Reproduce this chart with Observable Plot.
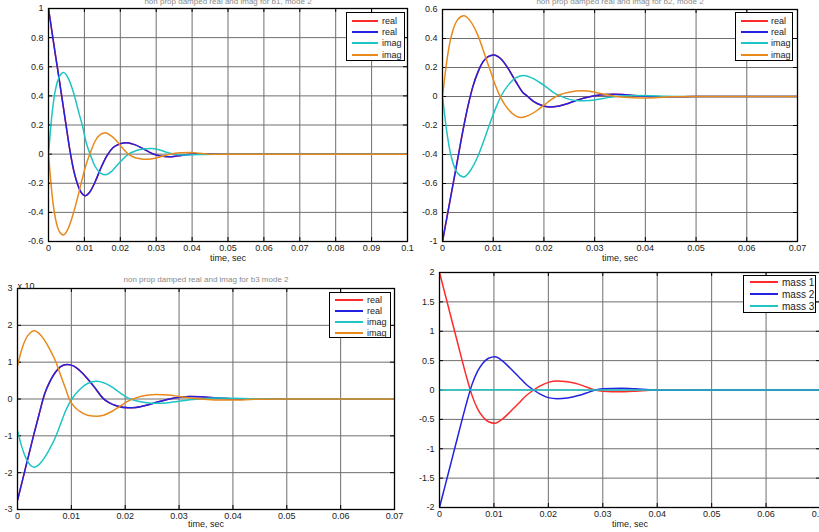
<!DOCTYPE html>
<html><head><meta charset="utf-8">
<script src="https://cdn.jsdelivr.net/npm/d3@7"></script>
<script src="https://cdn.jsdelivr.net/npm/@observablehq/plot@0.6"></script>
<style>
body{margin:0;background:#fff;}
#root{position:relative;width:819px;height:532px;overflow:hidden;background:#fff;font-family:"Liberation Sans",Arial,sans-serif;}
.panel{position:absolute;overflow:hidden;}
.panel svg{overflow:visible;max-width:none !important;}
.legend{position:absolute;background:#fff;border:1px solid #000;box-sizing:border-box;color:#222;}
.legend .row{display:flex;align-items:center;}
.legend .sw{display:inline-block;height:2px;flex:none;}
</style>
</head><body>
<div id="root"></div>
<script>
// ---------- data ----------
const xTicks1 = [0,0.01,0.02,0.03,0.04,0.05,0.06,0.07,0.08,0.09,0.1];
const xTicks7 = [0,0.01,0.02,0.03,0.04,0.05,0.06,0.07];
const yTicks1 = [-0.6,-0.4,-0.2,0,0.2,0.4,0.6,0.8,1];
const yTicks2 = [-1,-0.8,-0.6,-0.4,-0.2,0,0.2,0.4,0.6];
const yTicks3 = [-3,-2,-1,0,1,2,3];
const yTicks4 = [-2,-1.5,-1,-0.5,0,0.5,1,1.5,2];
const xLabel = "time, sec";
const titles = ["non prop damped real and imag for b1, mode 2", "non prop damped real and imag for b2, mode 2", "non prop damped real and imag for b3 mode 2"];
const expLabel = "x 10";
const namesRI = ["real","real","imag","imag"];
const namesMass = ["mass 1","mass 2","mass 3"];

// panel 1 (top-left)
const p1Real = [[0,1],[0.001,0.835],[0.002,0.67],[0.003,0.51],[0.004,0.345],[0.005,0.18],[0.006,0.02],[0.007,-0.11],[0.008,-0.2],[0.009,-0.26],[0.0102,-0.285],[0.0115,-0.26],[0.013,-0.19],[0.0145,-0.1],[0.0163,-0.01],[0.018,0.045],[0.0198,0.07],[0.0218,0.078],[0.024,0.065],[0.0265,0.035],[0.029,0.003],[0.031,-0.012],[0.0336,-0.018],[0.036,-0.012],[0.039,-0.002],[0.042,0.003],[0.045,0.003],[0.05,0],[0.1,0]];
const p1Cyan = [[0,0],[0.0005,0.15],[0.001,0.28],[0.0015,0.38],[0.002,0.45],[0.003,0.53],[0.0042,0.56],[0.0055,0.52],[0.007,0.42],[0.0085,0.28],[0.0095,0.19],[0.0105,0.08],[0.0116,0],[0.013,-0.085],[0.0145,-0.13],[0.0159,-0.142],[0.0175,-0.12],[0.019,-0.08],[0.0205,-0.04],[0.022,-0.005],[0.0235,0.015],[0.026,0.033],[0.0285,0.038],[0.031,0.028],[0.033,0.012],[0.035,0],[0.038,-0.006],[0.042,-0.002],[0.046,0],[0.1,0]];
const p1Orange = [[0,0],[0.0005,-0.15],[0.001,-0.28],[0.0015,-0.38],[0.002,-0.45],[0.003,-0.53],[0.0042,-0.555],[0.0055,-0.51],[0.007,-0.4],[0.0085,-0.26],[0.0095,-0.16],[0.0105,-0.07],[0.0118,0.02],[0.013,0.09],[0.0145,0.135],[0.0158,0.147],[0.0175,0.125],[0.019,0.09],[0.0205,0.045],[0.022,0.005],[0.0235,-0.018],[0.0255,-0.032],[0.0275,-0.036],[0.03,-0.027],[0.032,-0.013],[0.034,0],[0.037,0.009],[0.0397,0.012],[0.042,0.006],[0.045,0],[0.1,0]];

// panel 2 (top-right)
const p2Real = [[0,-1],[0.001,-0.81],[0.002,-0.62],[0.003,-0.43],[0.004,-0.24],[0.005,-0.07],[0.006,0.07],[0.007,0.17],[0.008,0.24],[0.009,0.275],[0.0101,0.287],[0.0115,0.26],[0.013,0.19],[0.0145,0.1],[0.0158,0.03],[0.0168,0],[0.018,-0.035],[0.0195,-0.06],[0.021,-0.072],[0.023,-0.065],[0.025,-0.045],[0.027,-0.02],[0.029,-0.002],[0.031,0.01],[0.0336,0.016],[0.036,0.012],[0.039,0.004],[0.042,-0.002],[0.045,-0.002],[0.05,0],[0.07,0]];
const p2Cyan = [[0,0],[0.0005,-0.15],[0.001,-0.28],[0.0015,-0.38],[0.002,-0.45],[0.003,-0.53],[0.0042,-0.555],[0.0055,-0.51],[0.007,-0.41],[0.0085,-0.27],[0.0095,-0.17],[0.0105,-0.08],[0.0115,0],[0.013,0.08],[0.0145,0.13],[0.016,0.145],[0.0175,0.13],[0.019,0.1],[0.0205,0.065],[0.022,0.025],[0.0235,0],[0.025,-0.02],[0.027,-0.03],[0.029,-0.028],[0.031,-0.018],[0.033,-0.006],[0.035,0.003],[0.038,0.007],[0.041,0.006],[0.044,0.002],[0.048,0],[0.07,0]];
const p2Orange = [[0,0],[0.0005,0.15],[0.001,0.28],[0.0015,0.38],[0.002,0.45],[0.003,0.53],[0.0042,0.557],[0.0055,0.52],[0.007,0.42],[0.0085,0.27],[0.0095,0.17],[0.0105,0.07],[0.0115,-0.01],[0.013,-0.09],[0.0145,-0.135],[0.0155,-0.145],[0.017,-0.13],[0.0185,-0.1],[0.02,-0.06],[0.0215,-0.02],[0.023,0.01],[0.025,0.03],[0.0275,0.04],[0.03,0.03],[0.032,0.015],[0.034,0.002],[0.036,-0.006],[0.039,-0.01],[0.042,-0.008],[0.045,-0.002],[0.05,0],[0.07,0]];

// panel 3 (bottom-left)
const p3Real = [[0,-2.75],[0.001,-2.16],[0.002,-1.57],[0.003,-0.98],[0.004,-0.42],[0.005,0.12],[0.006,0.47],[0.007,0.72],[0.008,0.88],[0.0092,0.94],[0.0104,0.9],[0.0115,0.78],[0.013,0.55],[0.0145,0.28],[0.0158,0.03],[0.017,-0.1],[0.0185,-0.19],[0.0206,-0.24],[0.022,-0.23],[0.024,-0.17],[0.026,-0.08],[0.028,-0.005],[0.0305,0.055],[0.032,0.065],[0.034,0.06],[0.037,0.03],[0.04,0.01],[0.043,-0.01],[0.046,-0.01],[0.05,0],[0.07,0]];
const p3Cyan = [[0,-0.86],[0.0008,-1.3],[0.0016,-1.62],[0.0024,-1.8],[0.0031,-1.85],[0.004,-1.78],[0.005,-1.6],[0.006,-1.35],[0.007,-1.05],[0.008,-0.68],[0.009,-0.3],[0.0101,0],[0.0115,0.25],[0.013,0.42],[0.0147,0.48],[0.016,0.44],[0.0175,0.33],[0.019,0.17],[0.0205,0.03],[0.022,-0.05],[0.024,-0.1],[0.0258,-0.115],[0.028,-0.1],[0.03,-0.06],[0.032,-0.02],[0.034,0.01],[0.037,0.025],[0.04,0.02],[0.044,0.005],[0.05,0],[0.07,0]];
const p3Orange = [[0,0.9],[0.0008,1.35],[0.0016,1.65],[0.0024,1.8],[0.0031,1.85],[0.004,1.78],[0.005,1.6],[0.006,1.35],[0.007,1.05],[0.008,0.65],[0.009,0.25],[0.0096,0],[0.0105,-0.2],[0.0115,-0.33],[0.013,-0.44],[0.0147,-0.47],[0.016,-0.44],[0.0175,-0.34],[0.019,-0.2],[0.0205,-0.06],[0.022,0.03],[0.024,0.1],[0.0258,0.12],[0.028,0.11],[0.03,0.07],[0.032,0.03],[0.034,0],[0.037,-0.03],[0.04,-0.03],[0.044,-0.01],[0.05,0],[0.07,0]];

// panel 4 (bottom-right)
const p4Mass1 = [[0,2],[0.001,1.64],[0.002,1.28],[0.003,0.92],[0.004,0.56],[0.005,0.21],[0.006,-0.1],[0.007,-0.32],[0.008,-0.46],[0.009,-0.54],[0.0102,-0.565],[0.0115,-0.5],[0.013,-0.37],[0.0145,-0.23],[0.016,-0.09],[0.0173,0],[0.0185,0.07],[0.02,0.13],[0.0216,0.153],[0.0235,0.14],[0.0255,0.1],[0.027,0.05],[0.0286,0],[0.03,-0.02],[0.0334,-0.03],[0.036,-0.02],[0.0385,-0.005],[0.041,0.005],[0.045,0.005],[0.05,0],[0.07,0]];
const p4Mass2 = [[0,-2],[0.001,-1.64],[0.002,-1.28],[0.003,-0.92],[0.004,-0.56],[0.005,-0.21],[0.006,0.1],[0.007,0.32],[0.008,0.46],[0.009,0.54],[0.0102,0.565],[0.0115,0.5],[0.013,0.37],[0.0145,0.23],[0.016,0.09],[0.0173,0],[0.0185,-0.07],[0.02,-0.13],[0.0216,-0.148],[0.0235,-0.135],[0.0255,-0.095],[0.027,-0.05],[0.0286,0],[0.03,0.02],[0.0334,0.03],[0.036,0.02],[0.0385,0.005],[0.041,-0.003],[0.045,-0.003],[0.05,0],[0.07,0]];
const p4Mass3 = [[0,0],[0.01,0.005],[0.02,0],[0.07,0]];

// ---------- styles ----------
const RED = "#ff2a2a", BLUE = "#2222e0", CYAN = "#1fc4c4", ORANGE = "#e8891c";
const colorsRI = [RED, BLUE, CYAN, ORANGE];
const colorsMass = [RED, BLUE, CYAN];
const fmt = d => Math.abs(d) < 1e-12 ? "0" : String(+d.toFixed(4));
const root = document.getElementById("root");

function makePanel(cfg) {
  const div = document.createElement("div");
  div.className = "panel";
  Object.assign(div.style, {left: cfg.left+"px", top: cfg.top+"px", width: cfg.boxW+"px", height: cfg.height+"px"});
  const fh = cfg.height - cfg.mt - cfg.mb;
  const fw = cfg.width - cfg.ml - cfg.mr;
  const marks = [
    Plot.gridX(cfg.xTicks, {stroke: "#6e6e6e", strokeOpacity: 1, strokeWidth: 1}),
    Plot.gridY(cfg.yTicks, {stroke: "#6e6e6e", strokeOpacity: 1, strokeWidth: 1}),
    Plot.ruleX(cfg.xTicks, {x: d => d, insetTop: fh - 4, stroke: "#000"}),
    Plot.ruleX(cfg.xTicks, {x: d => d, insetBottom: fh - 4, stroke: "#000"}),
    Plot.ruleY(cfg.yTicks, {y: d => d, insetRight: fw - 4, stroke: "#000"}),
    Plot.ruleY(cfg.yTicks, {y: d => d, insetLeft: fw - 4, stroke: "#000"}),
    Plot.axisX(cfg.xTicks, {tickSize: 0, tickPadding: 3, tickFormat: fmt, label: null, fill: "#222"}),
    Plot.axisY(cfg.yTicks, {tickSize: 0, tickPadding: 5, tickFormat: fmt, label: null, fill: "#222"}),
    ...cfg.series.map((s, i) => Plot.line(s, {x: d => d[0], y: d => d[1], stroke: cfg.colors[i], strokeWidth: 1.5, curve: "monotone-x", clip: true})),
    Plot.frame({stroke: "#000", strokeWidth: 1.3}),
    Plot.text([xLabel], {text: d => d, frameAnchor: "bottom", dy: cfg.labelDy, fill: "#222"})
  ];
  if (cfg.title) marks.push(Plot.text([cfg.title], {text: d => d, frameAnchor: "top", dy: cfg.titleDy, fill: "#8a8a8a", fontSize: 8}));
  if (cfg.exp) marks.push(Plot.text([cfg.exp], {text: d => d, frameAnchor: "top-left", textAnchor: "start", dy: -6, fill: "#222"}));
  const svg = Plot.plot({
    width: cfg.width, height: cfg.height,
    marginLeft: cfg.ml, marginRight: cfg.mr, marginTop: cfg.mt, marginBottom: cfg.mb,
    style: {background: "transparent", fontFamily: "'Liberation Sans', Arial, sans-serif", fontSize: "9px", overflow: "visible", maxWidth: "none"},
    x: {domain: cfg.xDomain},
    y: {domain: cfg.yDomain},
    marks
  });
  svg.style.maxWidth = "none";
  svg.style.width = cfg.width + "px";
  div.appendChild(svg);
  root.appendChild(div);
}

function makeLegend(cfg) {
  const lg = document.createElement("div");
  lg.className = "legend";
  Object.assign(lg.style, {left: cfg.left+"px", top: cfg.top+"px", width: cfg.w+"px", height: cfg.h+"px", paddingTop: cfg.padTop+"px", fontSize: cfg.fs+"px"});
  cfg.names.forEach((n, i) => {
    const row = document.createElement("div");
    row.className = "row";
    row.style.height = cfg.rowH + "px";
    const sw = document.createElement("span");
    sw.className = "sw";
    Object.assign(sw.style, {width: cfg.swW+"px", marginLeft: cfg.swL+"px", marginRight: cfg.gap+"px", background: cfg.colors[i]});
    const t = document.createElement("span");
    t.textContent = n;
    row.appendChild(sw); row.appendChild(t);
    lg.appendChild(row);
  });
  root.appendChild(lg);
}

makePanel({left: 0, top: 0, boxW: 414, width: 414, height: 268, ml: 48, mr: 7, mt: 8, mb: 27,
  xDomain: [0, 0.1], yDomain: [-0.6, 1], xTicks: xTicks1, yTicks: yTicks1,
  series: [p1Real, p1Real, p1Cyan, p1Orange], colors: colorsRI, labelDy: 19, title: titles[0], titleDy: -10});
makePanel({left: 410, top: 0, boxW: 409, width: 409, height: 268, ml: 32, mr: 22, mt: 9, mb: 27,
  xDomain: [0, 0.07], yDomain: [-1, 0.6], xTicks: xTicks7, yTicks: yTicks2,
  series: [p2Real, p2Real, p2Cyan, p2Orange], colors: colorsRI, labelDy: 19, title: titles[1], titleDy: -11});
makePanel({left: 0, top: 277, boxW: 410, width: 410, height: 255, ml: 17, mr: 16, mt: 11, mb: 23,
  xDomain: [0, 0.07], yDomain: [-3, 3], xTicks: xTicks7, yTicks: yTicks3,
  series: [p3Real, p3Real, p3Cyan, p3Orange], colors: colorsRI, labelDy: 17, title: titles[2], titleDy: -12, exp: expLabel});
makePanel({left: 410, top: 268, boxW: 409, width: 420, height: 264, ml: 29, mr: 10, mt: 4, mb: 25,
  xDomain: [0, 0.07], yDomain: [-2, 2], xTicks: xTicks7, yTicks: yTicks4,
  series: [p4Mass1, p4Mass2, p4Mass3], colors: colorsMass, labelDy: 19});

makeLegend({left: 346, top: 12, w: 59, h: 49, padTop: 2, rowH: 11.3, swL: 5, swW: 26, gap: 4, fs: 9, names: namesRI, colors: colorsRI});
makeLegend({left: 735, top: 12, w: 58, h: 49, padTop: 2, rowH: 11.3, swL: 5, swW: 27, gap: 3, fs: 9, names: namesRI, colors: colorsRI});
makeLegend({left: 329, top: 292, w: 62, h: 46, padTop: 1, rowH: 11, swL: 5, swW: 28, gap: 4, fs: 9, names: namesRI, colors: colorsRI});
makeLegend({left: 743, top: 275, w: 73, h: 38, padTop: 0, rowH: 12.2, swL: 6, swW: 28, gap: 4, fs: 10, names: namesMass, colors: colorsMass});
</script>
</body></html>
